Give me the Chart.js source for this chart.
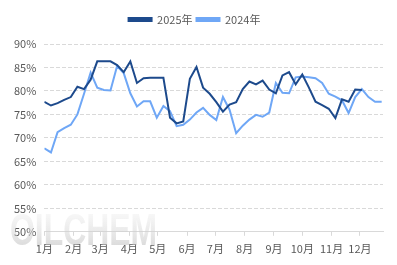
<!DOCTYPE html>
<html><head><meta charset="utf-8">
<script src="https://cdn.jsdelivr.net/npm/chart.js@4/dist/chart.umd.min.js"></script>
<style>html,body{margin:0;padding:0;background:#fff}#wrap{width:397px;height:265px}</style>
</head><body><div id="wrap"><canvas id="c" width="397" height="265"></canvas></div>
<script>
const seriesNames = ['2025年', '2024年'];
const monthLabels = ['1月','2月','3月','4月','5月','6月','7月','8月','9月','10月','11月','12月'];
const monthStartDays = [0,31,59,90,120,151,181,212,243,273,304,334];
const yTicks = [50,55,60,65,70,75,80,85,90];
const values2025 = [77.7,76.9,77.4,78.1,78.7,80.9,80.4,82.4,86.3,86.3,86.3,85.5,84.0,86.3,81.7,82.7,82.8,82.8,82.8,74.3,73.1,73.5,82.6,85.1,80.7,79.4,77.6,75.6,77.1,77.6,80.4,82.0,81.4,82.2,80.3,79.5,83.3,84.0,81.4,83.5,80.7,77.7,77.0,76.2,74.2,78.2,77.7,80.3,80.2];
const values2024 = [67.8,66.9,71.2,72.1,72.8,75.0,79.4,83.9,80.7,80.2,80.1,85.3,83.8,79.5,76.7,77.8,77.8,74.3,76.8,75.7,72.5,72.8,73.9,75.4,76.4,74.9,73.8,78.7,76.0,71.0,72.6,73.9,74.9,74.5,75.4,81.7,79.6,79.5,82.9,83.1,82.9,82.7,81.7,79.4,78.8,78.0,75.3,78.7,80.4,78.7,77.7,77.7];

const toPts = arr => arr.map((v,i)=>({x:i,y:v}));
const font = "'Noto Sans CJK SC','Noto Sans',sans-serif";

const watermark = {
  id:'wm',
  beforeDatasetsDraw(chart){
    const ctx = chart.ctx;
    ctx.save();
    ctx.font = "bold 44px 'Liberation Sans', sans-serif";
    const g = ctx.createLinearGradient(0, 212, 0, 246);
    g.addColorStop(0, 'rgba(235,235,235,0.35)');
    g.addColorStop(1, 'rgba(190,190,190,0.55)');
    ctx.fillStyle = g;
    ctx.textBaseline = 'alphabetic';
    ctx.fillText('OILCHEM', 10, 245, 147);
    ctx.restore();
  }
};
const legendSpace = {
  id:'legendSpace',
  beforeInit(chart){
    const lg = chart.legend;
    const orig = lg.fit;
    lg.fit = function(){ orig.call(this); this.height += 9; };
  }
};

new Chart(document.getElementById('c'), {
  type:'line',
  data:{
    datasets:[
      {label:seriesNames[0], data:toPts(values2025), borderColor:'#1d4a8c', backgroundColor:'#1d4a8c', borderWidth:2, pointRadius:0, tension:0},
      {label:seriesNames[1], data:toPts(values2024), borderColor:'#6fa7f6', backgroundColor:'#6fa7f6', borderWidth:2, pointRadius:0, tension:0}
    ]
  },
  plugins:[watermark, legendSpace],
  options:{
    responsive:false, animation:false,
    layout:{padding:{left:6,right:14,top:10,bottom:4}},
    plugins:{
      legend:{position:'top', labels:{boxWidth:23, boxHeight:3, padding:4, color:'#595959', font:{family:font,size:11}}},
      tooltip:{enabled:false}
    },
    scales:{
      x:{type:'linear', min:0, max:51.2,
        afterBuildTicks(s){ s.ticks = monthStartDays.map(d=>({value:d/7})); },
        ticks:{autoSkip:false, maxRotation:0, color:'#595959', padding:6, font:{family:font,size:11},
          callback:(v,i)=>monthLabels[i]},
        grid:{drawOnChartArea:false, drawTicks:true, tickLength:4, color:'#d9d9d9'},
        border:{display:true, color:'#d9d9d9'}
      },
      y:{min:50, max:90,
        afterBuildTicks(s){ s.ticks = yTicks.map(v=>({value:v})); },
        ticks:{color:'#595959', padding:8, font:{family:font,size:11}, callback:v=>v+'%'},
        grid:{color:'#d9d9d9', drawTicks:false, lineWidth:1},
        border:{display:false, dash:[4,2]}
      }
    }
  }
});
</script></body></html>
